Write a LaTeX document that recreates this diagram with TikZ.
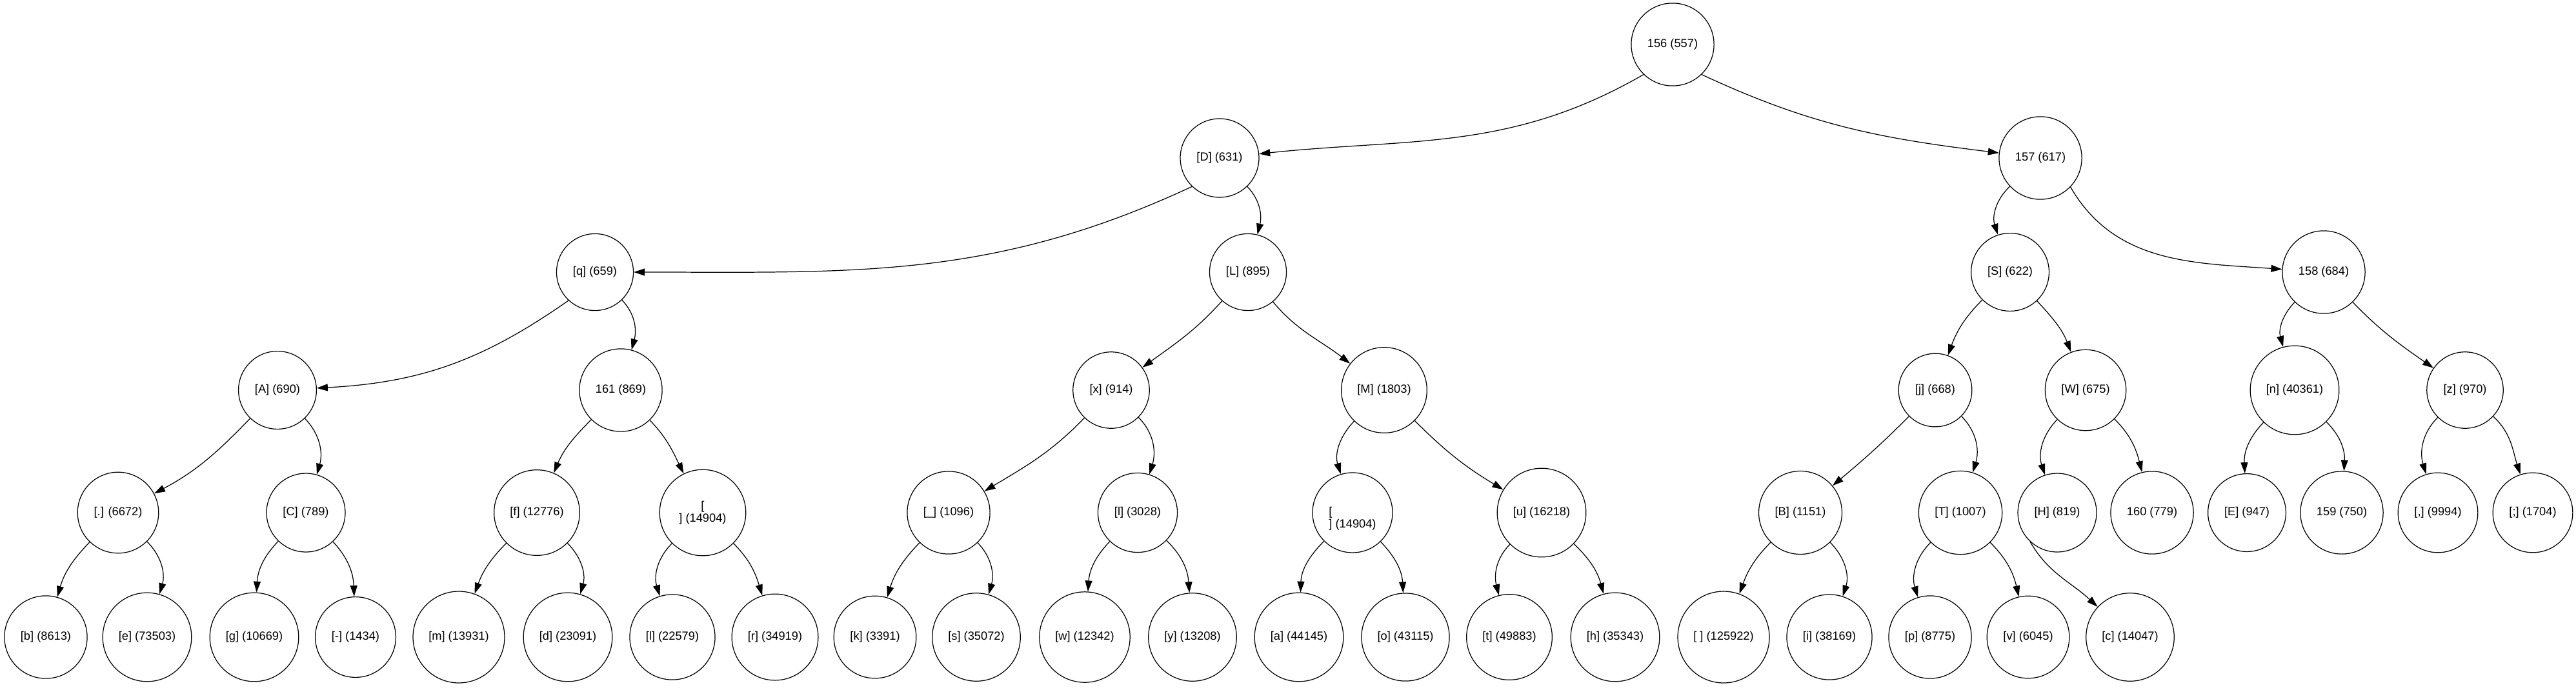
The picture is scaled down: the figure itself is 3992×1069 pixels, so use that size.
\documentclass[tikz,border=0pt]{standalone}
\usepackage{fontspec}
\setmainfont{Liberation Sans}
\usetikzlibrary{arrows.meta}
\tikzset{
    hnode/.style={circle,draw,line width=0.7pt,inner sep=0.38cm,font=\fontsize{10.4}{11}\selectfont},
    hedge/.style={line width=0.7pt,-{Triangle[length=0.34cm,width=0.22cm]}}
}
\begin{document}
\begin{tikzpicture}[x=0.02cm,y=-0.02cm]
        \useasboundingbox (0,0) rectangle (3992,1069);

        \node[hnode] (root) at (2592,69) {156 (557)};

        \node[hnode] (nD) at (1890,245) {[D] (631)};
        \node[hnode] (n157) at (3162,245) {157 (617)};

        \node[hnode] (nq) at (922,422) {[q] (659)};
        \node[hnode] (nL) at (1934,422) {[L] (895)};
        \node[hnode] (nS) at (3115,422) {[S] (622)};
        \node[hnode] (n158) at (3601,422) {158 (684)};

        \node[hnode] (nA) at (430,605) {[A] (690)};
        \node[hnode] (n161) at (962,605) {161 (869)};
        \node[hnode] (nx) at (1722,605) {[x] (914)};
        \node[hnode] (nM) at (2145,605) {[M] (1803)};
        \node[hnode] (nj) at (2999,605) {[j] (668)};
        \node[hnode] (nW) at (3232,605) {[W] (675)};
        \node[hnode] (nn) at (3556,605) {[n] (40361)};
        \node[hnode] (nz) at (3820,605) {[z] (970)};

        \node[hnode] (ndot) at (183,795) {[.] (6672)};
        \node[hnode] (nC) at (474,795) {[C] (789)};
        \node[hnode] (nf) at (832,795) {[f] (12776)};
        \node[hnode,align=center] (nnlA) at (1089,795) {{[}\\] (14904)};
        \node[hnode] (nus) at (1470,795) {[\_] (1096)};
        \node[hnode] (nlx) at (1763,795) {[l] (3028)};
        \node[hnode,inner sep=0pt,minimum size=2.48cm] (nnlB) at (2096,795)
            {\raisebox{-2.6pt}[0pt][0pt]{\begin{tabular}[t]{@{}l@{}}{[}\\] (14904)\end{tabular}}};
        \node[hnode] (nu) at (2389,795) {[u] (16218)};
        \node[hnode] (nB) at (2790,795) {[B] (1151)};
        \node[hnode] (nT) at (3038,795) {[T] (1007)};
        \node[hnode] (nH) at (3188,795) {[H] (819)};
        \node[hnode] (n160) at (3335,795) {160 (779)};
        \node[hnode] (nE) at (3482,795) {[E] (947)};
        \node[hnode] (n159) at (3629,795) {159 (750)};
        \node[hnode] (ncomma) at (3778,795) {[,] (9994)};
        \node[hnode] (nsemi) at (3925,795) {[;] (1704)};

        \node[hnode] (nb) at (71,988) {[b] (8613)};
        \node[hnode] (ne) at (228,988) {[e] (73503)};
        \node[hnode] (ng) at (394,988) {[g] (10669)};
        \node[hnode] (ndash) at (551,988) {[-] (1434)};
        \node[hnode] (nm) at (711,988) {[m] (13931)};
        \node[hnode] (nd) at (880,988) {[d] (23091)};
        \node[hnode] (nell) at (1042,988) {[l] (22579)};
        \node[hnode] (nr) at (1201,988) {[r] (34919)};
        \node[hnode] (nk) at (1356,988) {[k] (3391)};
        \node[hnode] (ns) at (1513,988) {[s] (35072)};
        \node[hnode] (nw) at (1681,988) {[w] (12342)};
        \node[hnode] (ny) at (1848,988) {[y] (13208)};
        \node[hnode] (na) at (2013,988) {[a] (44145)};
        \node[hnode] (no) at (2178,988) {[o] (43115)};
        \node[hnode] (nt) at (2339,988) {[t] (49883)};
        \node[hnode] (nh) at (2503,988) {[h] (35343)};
        \node[hnode] (nspace) at (2671,988) {[ ] (125922)};
        \node[hnode] (ni) at (2835,988) {[i] (38169)};
        \node[hnode] (np) at (2991,988) {[p] (8775)};
        \node[hnode] (nv) at (3143,988) {[v] (6045)};
        \node[hnode] (nc) at (3301,988) {[c] (14047)};

        \draw[hedge] (root.226) to[out=210,in=6] (nD);
        \draw[hedge] (root.314) to[out=335,in=173] (n157);

        \draw[hedge] (nD.226) to[out=205,in=0] (nq);
        \draw[hedge] (nD) to[out=314,in=76] (nL);
        \draw[hedge] (n157) to[out=223,in=108] (nS);
        \draw[hedge] (n157.316) to[out=300,in=176] (n158);

        \draw[hedge] (nq.227) to[out=215,in=3] (nA);
        \draw[hedge] (nq) to[out=314,in=75] (n161);
        \draw[hedge] (nL) to[out=228,in=36] (nx);
        \draw[hedge] (nL) to[out=310,in=142] (nM);
        \draw[hedge] (nS) to[out=225,in=70] (nj);
        \draw[hedge] (nS) to[out=313,in=111] (nW);
        \draw[hedge] (n158) to[out=226,in=105] (nn);
        \draw[hedge] (n158) to[out=314,in=145] (nz);

        \draw[hedge] (nA) to[out=226,in=28] (ndot);
        \draw[hedge] (nA) to[out=314,in=74] (nC);
        \draw[hedge] (n161) to[out=225,in=67] (nf);
        \draw[hedge] (n161) to[out=314,in=116] (nnlA);
        \draw[hedge] (nx) to[out=226,in=31] (nus);
        \draw[hedge] (nx) to[out=315,in=73] (nlx);
        \draw[hedge] (nM) to[out=226,in=107] (nnlB);
        \draw[hedge] (nM) to[out=315,in=149] (nu);
        \draw[hedge] (nj) to[out=225,in=40] (nB);
        \draw[hedge] (nj) to[out=315,in=73] (nT);
        \draw[hedge] (nW) to[out=226,in=108] (nH);
        \draw[hedge] (nW) to[out=315,in=104] (n160);
        \draw[hedge] (nn) to[out=226,in=93] (nE);
        \draw[hedge] (nn) to[out=315,in=87] (n159);
        \draw[hedge] (nz) to[out=225,in=107] (ncomma);
        \draw[hedge] (nz) to[out=317,in=108] (nsemi);

        \draw[hedge] (ndot) to[out=226,in=74] (nb);
        \draw[hedge] (ndot) to[out=315,in=74] (ne);
        \draw[hedge] (nC) to[out=226,in=87] (ng);
        \draw[hedge] (nC) to[out=313,in=92] (ndash);
        \draw[hedge] (nf) to[out=225,in=70] (nm);
        \draw[hedge] (nf) to[out=315,in=74] (nd);
        \draw[hedge] (nnlA) to[out=225,in=107] (nell);
        \draw[hedge] (nnlA) to[out=315,in=107] (nr);
        \draw[hedge] (nus) to[out=226,in=73] (nk);
        \draw[hedge] (nus) to[out=314,in=74] (ns);
        \draw[hedge] (nlx) to[out=226,in=86] (nw);
        \draw[hedge] (nlx) to[out=316,in=94] (ny);
        \draw[hedge] (nnlB) to[out=225,in=88] (na);
        \draw[hedge] (nnlB) to[out=314,in=93] (no);
        \draw[hedge] (nu) to[out=225,in=104] (nt);
        \draw[hedge] (nu) to[out=316,in=105] (nh);
        \draw[hedge] (nB) to[out=225,in=70] (nspace);
        \draw[hedge] (nB) to[out=315,in=72] (ni);
        \draw[hedge] (nT) to[out=225,in=107] (np);
        \draw[hedge] (nT) to[out=315,in=103] (nv);
        \draw[hedge] (nH.227) to[out=-60,in=137] (nc);
    \end{tikzpicture}
\end{document}
